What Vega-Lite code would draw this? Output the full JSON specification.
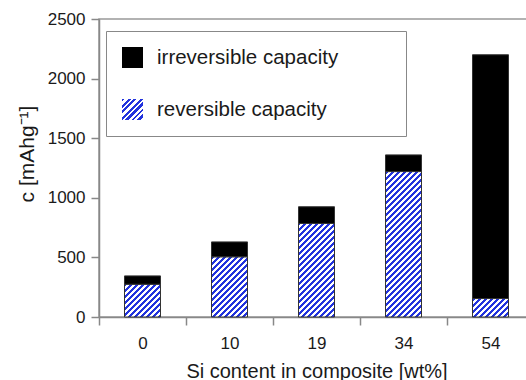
{
  "$schema": "https://vega.github.io/schema/vega-lite/v6.json",
  "width": 435,
  "height": 298,
  "autosize": "none",
  "padding": {"left": 99, "top": 19, "right": -8, "bottom": 63},
  "background": "white",
  "config": {
    "font": "Liberation Sans",
    "view": {"stroke": "#999", "strokeWidth": 1.5},
    "axis": {
      "domainColor": "#888", "domainWidth": 1.5,
      "tickColor": "#888", "tickWidth": 1.5, "tickSize": 8,
      "labelColor": "#1a1a1a", "titleColor": "#1a1a1a",
      "labelFontSize": 17, "titleFontSize": 20, "titleFontWeight": "normal",
      "grid": false
    }
  },
  "data": {
    "values": [
      {"si": "0", "type": "reversible capacity", "c": 275},
      {"si": "0", "type": "irreversible capacity", "c": 70},
      {"si": "10", "type": "reversible capacity", "c": 505},
      {"si": "10", "type": "irreversible capacity", "c": 125},
      {"si": "19", "type": "reversible capacity", "c": 785},
      {"si": "19", "type": "irreversible capacity", "c": 140},
      {"si": "34", "type": "reversible capacity", "c": 1220},
      {"si": "34", "type": "irreversible capacity", "c": 140},
      {"si": "54", "type": "reversible capacity", "c": 155},
      {"si": "54", "type": "irreversible capacity", "c": 2045}
    ]
  },
  "encoding": {
    "x": {
      "field": "si", "type": "ordinal", "sort": ["0", "10", "19", "34", "54"],
      "scale": {"paddingInner": 0, "paddingOuter": 0},
      "axis": {"title": "Si content in composite [wt%]", "labelAngle": 0, "tickBand": "extent", "labelPadding": 10, "titleY": 44}
    },
    "y": {
      "field": "c", "type": "quantitative", "stack": "zero",
      "scale": {"domain": [0, 2500], "nice": false},
      "axis": {
        "values": [0, 500, 1000, 1500, 2000, 2500], "format": "d",
        "title": "c [mAhg⁻¹]", "titleFontSize": 21, "labelPadding": 6,
        "titleAngle": 270, "titleX": -72, "titleY": 134.5, "titleAlign": "center", "titleBaseline": "middle"
      }
    }
  },
  "layer": [
    {
      "transform": [{"filter": "datum.type === 'reversible capacity'"}],
      "mark": {"type": "bar", "size": 36},
      "encoding": {
        "opacity": {
          "field": "type", "type": "nominal",
          "scale": {"range": [1]},
          "legend": {
            "title": null, "orient": "none", "legendX": 23, "legendY": 80, "padding": 0, "zindex": 2,
            "symbolType": "square", "symbolSize": 441, "symbolStrokeWidth": 0, "labelExpr": "''"
          }
        },
        "fill": {
          "value": {"gradient": "linear", "x1": 0, "y1": 0, "x2": 1, "y2": 1, "stops": [
            {"offset": 0, "color": "#23d"}, {"offset": 0.0714, "color": "#23d"}, {"offset": 0.0714, "color": "#fff"}, {"offset": 0.1429, "color": "#fff"},
            {"offset": 0.1429, "color": "#23d"}, {"offset": 0.2143, "color": "#23d"}, {"offset": 0.2143, "color": "#fff"}, {"offset": 0.2857, "color": "#fff"},
            {"offset": 0.2857, "color": "#23d"}, {"offset": 0.3571, "color": "#23d"}, {"offset": 0.3571, "color": "#fff"}, {"offset": 0.4286, "color": "#fff"},
            {"offset": 0.4286, "color": "#23d"}, {"offset": 0.5, "color": "#23d"}, {"offset": 0.5, "color": "#fff"}, {"offset": 0.5714, "color": "#fff"},
            {"offset": 0.5714, "color": "#23d"}, {"offset": 0.6429, "color": "#23d"}, {"offset": 0.6429, "color": "#fff"}, {"offset": 0.7143, "color": "#fff"},
            {"offset": 0.7143, "color": "#23d"}, {"offset": 0.7857, "color": "#23d"}, {"offset": 0.7857, "color": "#fff"}, {"offset": 0.8571, "color": "#fff"},
            {"offset": 0.8571, "color": "#23d"}, {"offset": 0.9286, "color": "#23d"}, {"offset": 0.9286, "color": "#fff"}, {"offset": 1, "color": "#fff"}
          ]},
          "condition": [
            {"test": "datum.si === '0'", "value": {"gradient": "linear", "x1": 0, "y1": 0, "x2": 1.0445, "y2": 0.9511, "stops": [
              {"offset": 0, "color": "#23d"}, {"offset": 0.0436, "color": "#23d"}, {"offset": 0.0436, "color": "#fff"}, {"offset": 0.0872, "color": "#fff"},
              {"offset": 0.0872, "color": "#23d"}, {"offset": 0.1309, "color": "#23d"}, {"offset": 0.1309, "color": "#fff"}, {"offset": 0.1745, "color": "#fff"},
              {"offset": 0.1745, "color": "#23d"}, {"offset": 0.2181, "color": "#23d"}, {"offset": 0.2181, "color": "#fff"}, {"offset": 0.2617, "color": "#fff"},
              {"offset": 0.2617, "color": "#23d"}, {"offset": 0.3053, "color": "#23d"}, {"offset": 0.3053, "color": "#fff"}, {"offset": 0.3489, "color": "#fff"},
              {"offset": 0.3489, "color": "#23d"}, {"offset": 0.3926, "color": "#23d"}, {"offset": 0.3926, "color": "#fff"}, {"offset": 0.4362, "color": "#fff"},
              {"offset": 0.4362, "color": "#23d"}, {"offset": 0.4798, "color": "#23d"}, {"offset": 0.4798, "color": "#fff"}, {"offset": 0.5234, "color": "#fff"},
              {"offset": 0.5234, "color": "#23d"}, {"offset": 0.567, "color": "#23d"}, {"offset": 0.567, "color": "#fff"}, {"offset": 0.6106, "color": "#fff"},
              {"offset": 0.6106, "color": "#23d"}, {"offset": 0.6542, "color": "#23d"}, {"offset": 0.6542, "color": "#fff"}, {"offset": 0.6979, "color": "#fff"},
              {"offset": 0.6979, "color": "#23d"}, {"offset": 0.7415, "color": "#23d"}, {"offset": 0.7415, "color": "#fff"}, {"offset": 0.7851, "color": "#fff"},
              {"offset": 0.7851, "color": "#23d"}, {"offset": 0.8287, "color": "#23d"}, {"offset": 0.8287, "color": "#fff"}, {"offset": 0.8724, "color": "#fff"},
              {"offset": 0.8724, "color": "#23d"}, {"offset": 0.916, "color": "#23d"}, {"offset": 0.916, "color": "#fff"}, {"offset": 0.9596, "color": "#fff"},
              {"offset": 0.9596, "color": "#23d"}, {"offset": 1, "color": "#23d"}
            ]}},
            {"test": "datum.si === '10'", "value": {"gradient": "linear", "x1": 0, "y1": 0, "x2": 0.7039, "y2": 1.1771, "stops": [
              {"offset": 0, "color": "#23d"}, {"offset": 0.0312, "color": "#23d"}, {"offset": 0.0312, "color": "#fff"}, {"offset": 0.0624, "color": "#fff"},
              {"offset": 0.0624, "color": "#23d"}, {"offset": 0.0936, "color": "#23d"}, {"offset": 0.0936, "color": "#fff"}, {"offset": 0.1247, "color": "#fff"},
              {"offset": 0.1247, "color": "#23d"}, {"offset": 0.1559, "color": "#23d"}, {"offset": 0.1559, "color": "#fff"}, {"offset": 0.1871, "color": "#fff"},
              {"offset": 0.1871, "color": "#23d"}, {"offset": 0.2183, "color": "#23d"}, {"offset": 0.2183, "color": "#fff"}, {"offset": 0.2495, "color": "#fff"},
              {"offset": 0.2495, "color": "#23d"}, {"offset": 0.2807, "color": "#23d"}, {"offset": 0.2807, "color": "#fff"}, {"offset": 0.3119, "color": "#fff"},
              {"offset": 0.3119, "color": "#23d"}, {"offset": 0.3431, "color": "#23d"}, {"offset": 0.3431, "color": "#fff"}, {"offset": 0.3742, "color": "#fff"},
              {"offset": 0.3742, "color": "#23d"}, {"offset": 0.4054, "color": "#23d"}, {"offset": 0.4054, "color": "#fff"}, {"offset": 0.4366, "color": "#fff"},
              {"offset": 0.4366, "color": "#23d"}, {"offset": 0.4678, "color": "#23d"}, {"offset": 0.4678, "color": "#fff"}, {"offset": 0.499, "color": "#fff"},
              {"offset": 0.499, "color": "#23d"}, {"offset": 0.5302, "color": "#23d"}, {"offset": 0.5302, "color": "#fff"}, {"offset": 0.5614, "color": "#fff"},
              {"offset": 0.5614, "color": "#23d"}, {"offset": 0.5925, "color": "#23d"}, {"offset": 0.5925, "color": "#fff"}, {"offset": 0.6237, "color": "#fff"},
              {"offset": 0.6237, "color": "#23d"}, {"offset": 0.6549, "color": "#23d"}, {"offset": 0.6549, "color": "#fff"}, {"offset": 0.6861, "color": "#fff"},
              {"offset": 0.6861, "color": "#23d"}, {"offset": 0.7173, "color": "#23d"}, {"offset": 0.7173, "color": "#fff"}, {"offset": 0.7485, "color": "#fff"},
              {"offset": 0.7485, "color": "#23d"}, {"offset": 0.7797, "color": "#23d"}, {"offset": 0.7797, "color": "#fff"}, {"offset": 0.8108, "color": "#fff"},
              {"offset": 0.8108, "color": "#23d"}, {"offset": 0.842, "color": "#23d"}, {"offset": 0.842, "color": "#fff"}, {"offset": 0.8732, "color": "#fff"},
              {"offset": 0.8732, "color": "#23d"}, {"offset": 0.9044, "color": "#23d"}, {"offset": 0.9044, "color": "#fff"}, {"offset": 0.9356, "color": "#fff"},
              {"offset": 0.9356, "color": "#23d"}, {"offset": 0.9668, "color": "#23d"}, {"offset": 0.9668, "color": "#fff"}, {"offset": 0.998, "color": "#fff"},
              {"offset": 0.998, "color": "#23d"}, {"offset": 1, "color": "#23d"}
            ]}},
            {"test": "datum.si === '19'", "value": {"gradient": "linear", "x1": 0, "y1": 0, "x2": 0.4641, "y2": 1.2062, "stops": [
              {"offset": 0, "color": "#23d"}, {"offset": 0.0232, "color": "#23d"}, {"offset": 0.0232, "color": "#fff"}, {"offset": 0.0463, "color": "#fff"},
              {"offset": 0.0463, "color": "#23d"}, {"offset": 0.0695, "color": "#23d"}, {"offset": 0.0695, "color": "#fff"}, {"offset": 0.0926, "color": "#fff"},
              {"offset": 0.0926, "color": "#23d"}, {"offset": 0.1158, "color": "#23d"}, {"offset": 0.1158, "color": "#fff"}, {"offset": 0.1389, "color": "#fff"},
              {"offset": 0.1389, "color": "#23d"}, {"offset": 0.1621, "color": "#23d"}, {"offset": 0.1621, "color": "#fff"}, {"offset": 0.1852, "color": "#fff"},
              {"offset": 0.1852, "color": "#23d"}, {"offset": 0.2084, "color": "#23d"}, {"offset": 0.2084, "color": "#fff"}, {"offset": 0.2315, "color": "#fff"},
              {"offset": 0.2315, "color": "#23d"}, {"offset": 0.2547, "color": "#23d"}, {"offset": 0.2547, "color": "#fff"}, {"offset": 0.2778, "color": "#fff"},
              {"offset": 0.2778, "color": "#23d"}, {"offset": 0.301, "color": "#23d"}, {"offset": 0.301, "color": "#fff"}, {"offset": 0.3241, "color": "#fff"},
              {"offset": 0.3241, "color": "#23d"}, {"offset": 0.3473, "color": "#23d"}, {"offset": 0.3473, "color": "#fff"}, {"offset": 0.3704, "color": "#fff"},
              {"offset": 0.3704, "color": "#23d"}, {"offset": 0.3936, "color": "#23d"}, {"offset": 0.3936, "color": "#fff"}, {"offset": 0.4168, "color": "#fff"},
              {"offset": 0.4168, "color": "#23d"}, {"offset": 0.4399, "color": "#23d"}, {"offset": 0.4399, "color": "#fff"}, {"offset": 0.4631, "color": "#fff"},
              {"offset": 0.4631, "color": "#23d"}, {"offset": 0.4862, "color": "#23d"}, {"offset": 0.4862, "color": "#fff"}, {"offset": 0.5094, "color": "#fff"},
              {"offset": 0.5094, "color": "#23d"}, {"offset": 0.5325, "color": "#23d"}, {"offset": 0.5325, "color": "#fff"}, {"offset": 0.5557, "color": "#fff"},
              {"offset": 0.5557, "color": "#23d"}, {"offset": 0.5788, "color": "#23d"}, {"offset": 0.5788, "color": "#fff"}, {"offset": 0.602, "color": "#fff"},
              {"offset": 0.602, "color": "#23d"}, {"offset": 0.6251, "color": "#23d"}, {"offset": 0.6251, "color": "#fff"}, {"offset": 0.6483, "color": "#fff"},
              {"offset": 0.6483, "color": "#23d"}, {"offset": 0.6714, "color": "#23d"}, {"offset": 0.6714, "color": "#fff"}, {"offset": 0.6946, "color": "#fff"},
              {"offset": 0.6946, "color": "#23d"}, {"offset": 0.7177, "color": "#23d"}, {"offset": 0.7177, "color": "#fff"}, {"offset": 0.7409, "color": "#fff"},
              {"offset": 0.7409, "color": "#23d"}, {"offset": 0.764, "color": "#23d"}, {"offset": 0.764, "color": "#fff"}, {"offset": 0.7872, "color": "#fff"},
              {"offset": 0.7872, "color": "#23d"}, {"offset": 0.8104, "color": "#23d"}, {"offset": 0.8104, "color": "#fff"}, {"offset": 0.8335, "color": "#fff"},
              {"offset": 0.8335, "color": "#23d"}, {"offset": 0.8567, "color": "#23d"}, {"offset": 0.8567, "color": "#fff"}, {"offset": 0.8798, "color": "#fff"},
              {"offset": 0.8798, "color": "#23d"}, {"offset": 0.903, "color": "#23d"}, {"offset": 0.903, "color": "#fff"}, {"offset": 0.9261, "color": "#fff"},
              {"offset": 0.9261, "color": "#23d"}, {"offset": 0.9493, "color": "#23d"}, {"offset": 0.9493, "color": "#fff"}, {"offset": 0.9724, "color": "#fff"},
              {"offset": 0.9724, "color": "#23d"}, {"offset": 0.9956, "color": "#23d"}, {"offset": 0.9956, "color": "#fff"}, {"offset": 1, "color": "#fff"}
            ]}},
            {"test": "datum.si === '34'", "value": {"gradient": "linear", "x1": 0, "y1": 0, "x2": 0.291, "y2": 1.1755, "stops": [
              {"offset": 0, "color": "#23d"}, {"offset": 0.0165, "color": "#23d"}, {"offset": 0.0165, "color": "#fff"}, {"offset": 0.0331, "color": "#fff"},
              {"offset": 0.0331, "color": "#23d"}, {"offset": 0.0496, "color": "#23d"}, {"offset": 0.0496, "color": "#fff"}, {"offset": 0.0661, "color": "#fff"},
              {"offset": 0.0661, "color": "#23d"}, {"offset": 0.0827, "color": "#23d"}, {"offset": 0.0827, "color": "#fff"}, {"offset": 0.0992, "color": "#fff"},
              {"offset": 0.0992, "color": "#23d"}, {"offset": 0.1158, "color": "#23d"}, {"offset": 0.1158, "color": "#fff"}, {"offset": 0.1323, "color": "#fff"},
              {"offset": 0.1323, "color": "#23d"}, {"offset": 0.1488, "color": "#23d"}, {"offset": 0.1488, "color": "#fff"}, {"offset": 0.1654, "color": "#fff"},
              {"offset": 0.1654, "color": "#23d"}, {"offset": 0.1819, "color": "#23d"}, {"offset": 0.1819, "color": "#fff"}, {"offset": 0.1984, "color": "#fff"},
              {"offset": 0.1984, "color": "#23d"}, {"offset": 0.215, "color": "#23d"}, {"offset": 0.215, "color": "#fff"}, {"offset": 0.2315, "color": "#fff"},
              {"offset": 0.2315, "color": "#23d"}, {"offset": 0.248, "color": "#23d"}, {"offset": 0.248, "color": "#fff"}, {"offset": 0.2646, "color": "#fff"},
              {"offset": 0.2646, "color": "#23d"}, {"offset": 0.2811, "color": "#23d"}, {"offset": 0.2811, "color": "#fff"}, {"offset": 0.2976, "color": "#fff"},
              {"offset": 0.2976, "color": "#23d"}, {"offset": 0.3142, "color": "#23d"}, {"offset": 0.3142, "color": "#fff"}, {"offset": 0.3307, "color": "#fff"},
              {"offset": 0.3307, "color": "#23d"}, {"offset": 0.3473, "color": "#23d"}, {"offset": 0.3473, "color": "#fff"}, {"offset": 0.3638, "color": "#fff"},
              {"offset": 0.3638, "color": "#23d"}, {"offset": 0.3803, "color": "#23d"}, {"offset": 0.3803, "color": "#fff"}, {"offset": 0.3969, "color": "#fff"},
              {"offset": 0.3969, "color": "#23d"}, {"offset": 0.4134, "color": "#23d"}, {"offset": 0.4134, "color": "#fff"}, {"offset": 0.4299, "color": "#fff"},
              {"offset": 0.4299, "color": "#23d"}, {"offset": 0.4465, "color": "#23d"}, {"offset": 0.4465, "color": "#fff"}, {"offset": 0.463, "color": "#fff"},
              {"offset": 0.463, "color": "#23d"}, {"offset": 0.4795, "color": "#23d"}, {"offset": 0.4795, "color": "#fff"}, {"offset": 0.4961, "color": "#fff"},
              {"offset": 0.4961, "color": "#23d"}, {"offset": 0.5126, "color": "#23d"}, {"offset": 0.5126, "color": "#fff"}, {"offset": 0.5292, "color": "#fff"},
              {"offset": 0.5292, "color": "#23d"}, {"offset": 0.5457, "color": "#23d"}, {"offset": 0.5457, "color": "#fff"}, {"offset": 0.5622, "color": "#fff"},
              {"offset": 0.5622, "color": "#23d"}, {"offset": 0.5788, "color": "#23d"}, {"offset": 0.5788, "color": "#fff"}, {"offset": 0.5953, "color": "#fff"},
              {"offset": 0.5953, "color": "#23d"}, {"offset": 0.6118, "color": "#23d"}, {"offset": 0.6118, "color": "#fff"}, {"offset": 0.6284, "color": "#fff"},
              {"offset": 0.6284, "color": "#23d"}, {"offset": 0.6449, "color": "#23d"}, {"offset": 0.6449, "color": "#fff"}, {"offset": 0.6614, "color": "#fff"},
              {"offset": 0.6614, "color": "#23d"}, {"offset": 0.678, "color": "#23d"}, {"offset": 0.678, "color": "#fff"}, {"offset": 0.6945, "color": "#fff"},
              {"offset": 0.6945, "color": "#23d"}, {"offset": 0.711, "color": "#23d"}, {"offset": 0.711, "color": "#fff"}, {"offset": 0.7276, "color": "#fff"},
              {"offset": 0.7276, "color": "#23d"}, {"offset": 0.7441, "color": "#23d"}, {"offset": 0.7441, "color": "#fff"}, {"offset": 0.7607, "color": "#fff"},
              {"offset": 0.7607, "color": "#23d"}, {"offset": 0.7772, "color": "#23d"}, {"offset": 0.7772, "color": "#fff"}, {"offset": 0.7937, "color": "#fff"},
              {"offset": 0.7937, "color": "#23d"}, {"offset": 0.8103, "color": "#23d"}, {"offset": 0.8103, "color": "#fff"}, {"offset": 0.8268, "color": "#fff"},
              {"offset": 0.8268, "color": "#23d"}, {"offset": 0.8433, "color": "#23d"}, {"offset": 0.8433, "color": "#fff"}, {"offset": 0.8599, "color": "#fff"},
              {"offset": 0.8599, "color": "#23d"}, {"offset": 0.8764, "color": "#23d"}, {"offset": 0.8764, "color": "#fff"}, {"offset": 0.8929, "color": "#fff"},
              {"offset": 0.8929, "color": "#23d"}, {"offset": 0.9095, "color": "#23d"}, {"offset": 0.9095, "color": "#fff"}, {"offset": 0.926, "color": "#fff"},
              {"offset": 0.926, "color": "#23d"}, {"offset": 0.9426, "color": "#23d"}, {"offset": 0.9426, "color": "#fff"}, {"offset": 0.9591, "color": "#fff"},
              {"offset": 0.9591, "color": "#23d"}, {"offset": 0.9756, "color": "#23d"}, {"offset": 0.9756, "color": "#fff"}, {"offset": 0.9922, "color": "#fff"},
              {"offset": 0.9922, "color": "#23d"}, {"offset": 1, "color": "#23d"}
            ]}},
            {"test": "datum.si === '54'", "value": {"gradient": "linear", "x1": 0, "y1": 0, "x2": 1.1977, "y2": 0.6147, "stops": [
              {"offset": 0, "color": "#23d"}, {"offset": 0.0551, "color": "#23d"}, {"offset": 0.0551, "color": "#fff"}, {"offset": 0.1101, "color": "#fff"},
              {"offset": 0.1101, "color": "#23d"}, {"offset": 0.1652, "color": "#23d"}, {"offset": 0.1652, "color": "#fff"}, {"offset": 0.2203, "color": "#fff"},
              {"offset": 0.2203, "color": "#23d"}, {"offset": 0.2754, "color": "#23d"}, {"offset": 0.2754, "color": "#fff"}, {"offset": 0.3304, "color": "#fff"},
              {"offset": 0.3304, "color": "#23d"}, {"offset": 0.3855, "color": "#23d"}, {"offset": 0.3855, "color": "#fff"}, {"offset": 0.4406, "color": "#fff"},
              {"offset": 0.4406, "color": "#23d"}, {"offset": 0.4956, "color": "#23d"}, {"offset": 0.4956, "color": "#fff"}, {"offset": 0.5507, "color": "#fff"},
              {"offset": 0.5507, "color": "#23d"}, {"offset": 0.6058, "color": "#23d"}, {"offset": 0.6058, "color": "#fff"}, {"offset": 0.6608, "color": "#fff"},
              {"offset": 0.6608, "color": "#23d"}, {"offset": 0.7159, "color": "#23d"}, {"offset": 0.7159, "color": "#fff"}, {"offset": 0.771, "color": "#fff"},
              {"offset": 0.771, "color": "#23d"}, {"offset": 0.8261, "color": "#23d"}, {"offset": 0.8261, "color": "#fff"}, {"offset": 0.8811, "color": "#fff"},
              {"offset": 0.8811, "color": "#23d"}, {"offset": 0.9362, "color": "#23d"}, {"offset": 0.9362, "color": "#fff"}, {"offset": 0.9913, "color": "#fff"},
              {"offset": 0.9913, "color": "#23d"}, {"offset": 1, "color": "#23d"}
            ]}}
          ]
        }
      }
    },
    {
      "mark": {"type": "bar", "size": 36, "stroke": "#333", "strokeWidth": 1},
      "encoding": {
        "order": {"field": "type", "sort": "descending"},
        "fill": {
          "field": "type", "type": "nominal",
          "scale": {"domain": ["irreversible capacity", "reversible capacity"], "range": ["#000", "transparent"]},
          "legend": {
            "title": null, "orient": "none", "legendX": 7, "legendY": 12, "direction": "vertical", "zindex": 1,
            "symbolType": "square", "symbolSize": 441, "symbolStrokeWidth": 0,
            "labelFontSize": 20.5, "labelColor": "#1a1a1a", "labelOffset": 14, "labelLimit": 400,
            "labelExpr": "datum.label + '\u00a0\u00a0\u00a0\u00a0\u00a0\u00a0\u00a0\u00a0\u00a0\u200b'",
            "rowPadding": 31, "padding": 16, "fillColor": "#fff", "strokeColor": "#888"
          }
        }
      }
    }
  ]
}
